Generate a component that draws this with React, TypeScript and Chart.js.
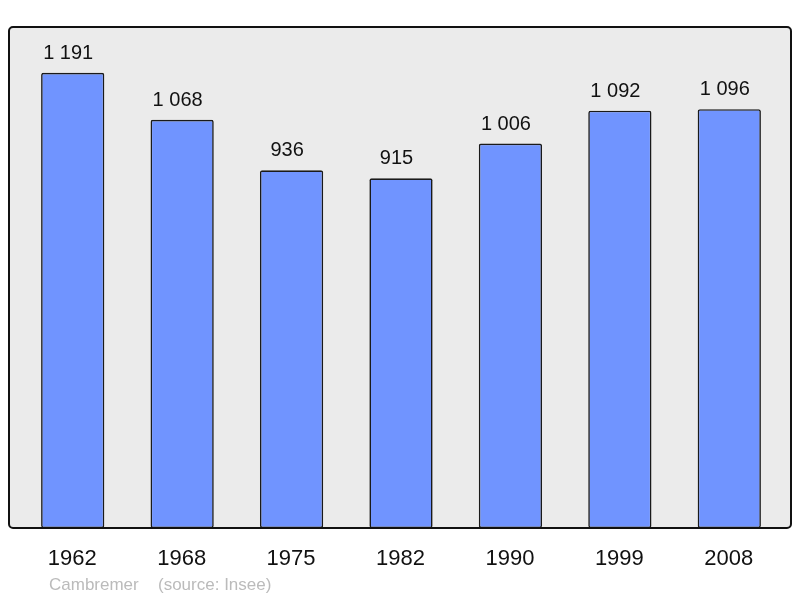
import React, { useEffect, useRef } from "react";
import { Chart, registerables } from "chart.js";

Chart.register(...registerables);

const categories: string[] = ["1962", "1968", "1975", "1982", "1990", "1999", "2008"];
const population: number[] = [1191, 1068, 936, 915, 1006, 1092, 1096];
const footerName = "Cambremer";
const footerSource = "(source: Insee)";

const FONT = '"Liberation Sans", Arial, sans-serif';

function fmt(v: number): string {
  return String(v).replace(/\B(?=(\d{3})+(?!\d))/g, " ");
}

function roundRect(ctx: CanvasRenderingContext2D, x: number, y: number, w: number, h: number, r: number) {
  ctx.beginPath();
  ctx.moveTo(x + r, y);
  ctx.lineTo(x + w - r, y);
  ctx.arcTo(x + w, y, x + w, y + r, r);
  ctx.lineTo(x + w, y + h - r);
  ctx.arcTo(x + w, y + h, x + w - r, y + h, r);
  ctx.lineTo(x + r, y + h);
  ctx.arcTo(x, y + h, x, y + h - r, r);
  ctx.lineTo(x, y + r);
  ctx.arcTo(x, y, x + r, y, r);
  ctx.closePath();
}

const decorPlugin = {
  id: "decor",
  beforeDraw(chart: any) {
    const ctx = chart.ctx as CanvasRenderingContext2D;
    const a = chart.chartArea;
    ctx.save();
    roundRect(ctx, 9, a.top, 782, a.bottom - a.top, 4);
    ctx.fillStyle = "#ebebeb";
    ctx.fill();
    ctx.restore();
  },
  afterDatasetsDraw(chart: any) {
    const ctx = chart.ctx as CanvasRenderingContext2D;
    const a = chart.chartArea;
    const xs = chart.scales.x;
    const meta = chart.getDatasetMeta(0);
    ctx.save();
    // frame
    roundRect(ctx, 9, a.top, 782, a.bottom - a.top, 4);
    ctx.lineWidth = 2;
    ctx.strokeStyle = "#111";
    ctx.stroke();
    // value labels
    ctx.fillStyle = "#111";
    ctx.textAlign = "center";
    ctx.textBaseline = "alphabetic";
    ctx.font = `20px ${FONT}`;
    meta.data.forEach((bar: any, i: number) => {
      ctx.fillText(fmt(population[i]), bar.x - 4.5, bar.y - 14);
    });
    // x labels
    ctx.font = `22px ${FONT}`;
    categories.forEach((c, i) => {
      ctx.fillText(c, xs.getPixelForValue(i) - 0.5, 565);
    });
    // footer
    ctx.fillStyle = "#bbbbbb";
    ctx.textAlign = "left";
    ctx.font = `17px ${FONT}`;
    ctx.fillText(footerName, 49, 590);
    ctx.fillText(footerSource, 158, 590);
    ctx.restore();
  },
};

export default function App() {
  const ref = useRef<HTMLCanvasElement | null>(null);
  useEffect(() => {
    document.body.style.margin = "0";
    if (!ref.current) return;
    const chart = new Chart(ref.current, {
      type: "bar",
      data: {
        labels: categories,
        datasets: [
          {
            data: population,
            backgroundColor: "#7094ff",
            borderColor: "#1a1a1a",
            borderWidth: 1.6,
            borderRadius: 2,
            borderSkipped: false,
            categoryPercentage: 1,
            barPercentage: 0.578,
          },
        ],
      },
      options: {
        animation: false,
        responsive: false,
        maintainAspectRatio: false,
        layout: { padding: { left: 18, right: 16, top: 27, bottom: 70 } },
        plugins: { legend: { display: false }, tooltip: { enabled: false } },
        scales: {
          x: { display: false, offset: true, grid: { display: false } },
          y: { display: false, min: 0, max: 1311 },
        },
      },
      plugins: [decorPlugin],
    });
    return () => chart.destroy();
  }, []);
  return (
    <div style={{ position: "absolute", left: 0, top: 0, width: 800, height: 598 }}>
      <canvas ref={ref} width={800} height={598} style={{ width: 800, height: 598 }} />
    </div>
  );
}
